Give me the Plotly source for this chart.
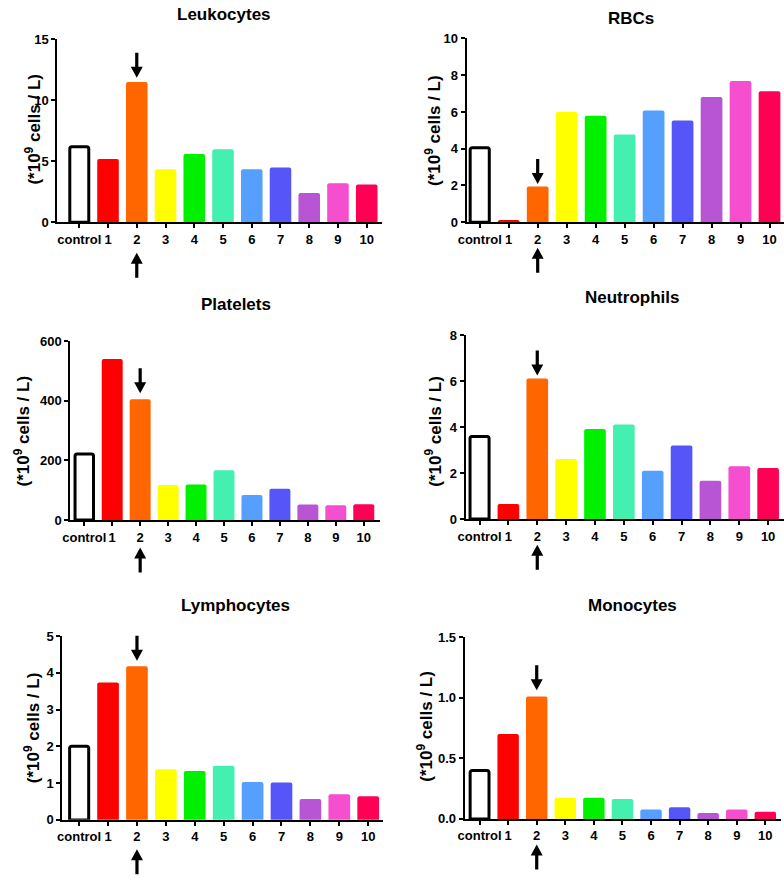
import plotly.graph_objects as go

W, H = 784, 878

groups = ["control", "1", "2", "3", "4", "5", "6", "7", "8", "9", "10"]
bar_colors = ["#ffffff", "#ff0000", "#ff6600", "#ffff00", "#00f000", "#44f0b0",
              "#55a0ff", "#5555f8", "#b855d5", "#f54fcf", "#ff0055"]

leukocytes = [6.2, 5.2, 11.5, 4.35, 5.6, 6.0, 4.35, 4.5, 2.4, 3.2, 3.1]
rbcs = [4.05, 0.12, 1.94, 6.0, 5.8, 4.78, 6.08, 5.53, 6.82, 7.68, 7.13]
platelets = [222, 540, 405, 118, 119, 167, 84, 105, 52, 50, 53]
neutrophils = [3.6, 0.66, 6.12, 2.62, 3.92, 4.12, 2.1, 3.2, 1.67, 2.3, 2.22]
lymphocytes = [2.0, 3.74, 4.18, 1.38, 1.33, 1.47, 1.03, 1.02, 0.57, 0.7, 0.64]
monocytes = [0.4, 0.7, 1.01, 0.175, 0.175, 0.165, 0.078, 0.097, 0.048, 0.078, 0.058]

titles = ["Leukocytes", "RBCs", "Platelets", "Neutrophils", "Lymphocytes", "Monocytes"]
series = [leukocytes, rbcs, platelets, neutrophils, lymphocytes, monocytes]
y_ranges = [[0, 15], [0, 10], [0, 600], [0, 8], [0, 5], [0, 1.5]]
y_dticks = [5, 2, 200, 2, 1, 0.5]
y_formats = ["d", "d", "d", "d", "d", ".1f"]

# panel geometry in pixels: (left, right, top, bottom), x range
panels = [
    ((49, 377, 33, 219), [-0.76, 10.52]),
    ((463, 784, 32, 219), [-0.45, 10.5]),
    ((62, 375, 340, 522), [-0.5, 10.57]),
    ((462, 784, 334, 521), [-0.48, 10.55]),
    ((54, 378, 640, 827), [-0.58, 10.5]),
    ((461, 781, 641, 826), [-0.52, 10.55]),
]
title_pos = [(218, 8), (629, 12), (230, 303), (630, 296), (229, 609), (631, 609)]
ytitle_pos = [(24, 124), (429, 126), (13, 431), (429, 432), (24, 733), (421, 732)]
# arrows marking sample 2: (down tip, up tip) in pixels
arrows = [(72, 250), (180, 245), (393, 550), (375, 547), (665, 857), (695, 852)]
arrow_len = 25


def px(v):
    return v / W


def py(v):
    return 1 - v / H


def arrow_path(direction):
    # tip at (0, 0); -1 points down (tail above), +1 points up (tail below)
    s = -direction
    L, hh, hw, sw = arrow_len, 11, 6, 1.6
    pts = [(-sw, L), (sw, L), (sw, hh), (hw, hh), (0, 0), (-hw, hh), (-sw, hh)]
    return "M " + " L ".join(f"{x},{s * y}" for x, y in pts) + " Z"


fig = go.Figure()
font_family = "Liberation Sans, Arial, sans-serif"
tick_font = dict(size=13, color="black", family=font_family, weight="bold")

for i in range(6):
    (l, r, t, b), xr = panels[i]
    n = str(i + 1) if i > 0 else ""
    line_colors = ["black"] + bar_colors[1:]
    line_widths = [3] + [0] * 10
    widths = [0.66] + [0.75] * 10
    fig.add_trace(go.Bar(
        x=groups, y=series[i], width=widths,
        marker=dict(color=bar_colors, line=dict(color=line_colors, width=line_widths),
                    cornerradius=2),
        xaxis="x" + n, yaxis="y" + n, showlegend=False))
    fig.update_layout({
        "xaxis" + n: dict(domain=[px(l), px(r)], anchor="y" + n, type="category",
                          range=xr, showline=True, linecolor="black", linewidth=2,
                          ticks="outside", ticklen=4, tickwidth=2, tickcolor="black",
                          tickangle=0, showgrid=False, zeroline=False, tickfont=tick_font),
        "yaxis" + n: dict(domain=[py(b), py(t)], anchor="x" + n, range=y_ranges[i],
                          dtick=y_dticks[i], tickformat=y_formats[i],
                          showline=True, linecolor="black", linewidth=2,
                          ticks="outside", ticklen=4, tickwidth=2, tickcolor="black",
                          showgrid=False, zeroline=False, tickfont=tick_font),
    })
    tx, ty = title_pos[i]
    fig.add_annotation(text="<b>" + titles[i] + "</b>", x=px(tx), y=py(ty),
                       xref="paper", yref="paper", xanchor="center", yanchor="middle",
                       showarrow=False,
                       font=dict(size=17, color="black", family=font_family))
    yx, yy = ytitle_pos[i]
    fig.add_annotation(text="<b>(*10<sup>9</sup> cells / L)</b>", x=px(yx), y=py(yy),
                       xref="paper", yref="paper", xanchor="center", yanchor="middle",
                       showarrow=False, textangle=-90,
                       font=dict(size=17, color="black", family=font_family))
    down_tip, up_tip = arrows[i]
    for tip, direction in [(down_tip, -1), (up_tip, 1)]:
        fig.add_shape(type="path", xref="x" + n, yref="paper",
                      xsizemode="pixel", ysizemode="pixel",
                      xanchor=2, yanchor=py(tip), path=arrow_path(direction),
                      fillcolor="black", line=dict(width=0))

fig.update_layout(
    width=W, height=H,
    margin=dict(l=0, r=0, t=0, b=0),
    paper_bgcolor="white", plot_bgcolor="white",
    font=dict(family=font_family, color="black"),
)

fig.write_html("out.html", post_script="document.body.style.margin = '0';",
               config={"displayModeBar": False})
